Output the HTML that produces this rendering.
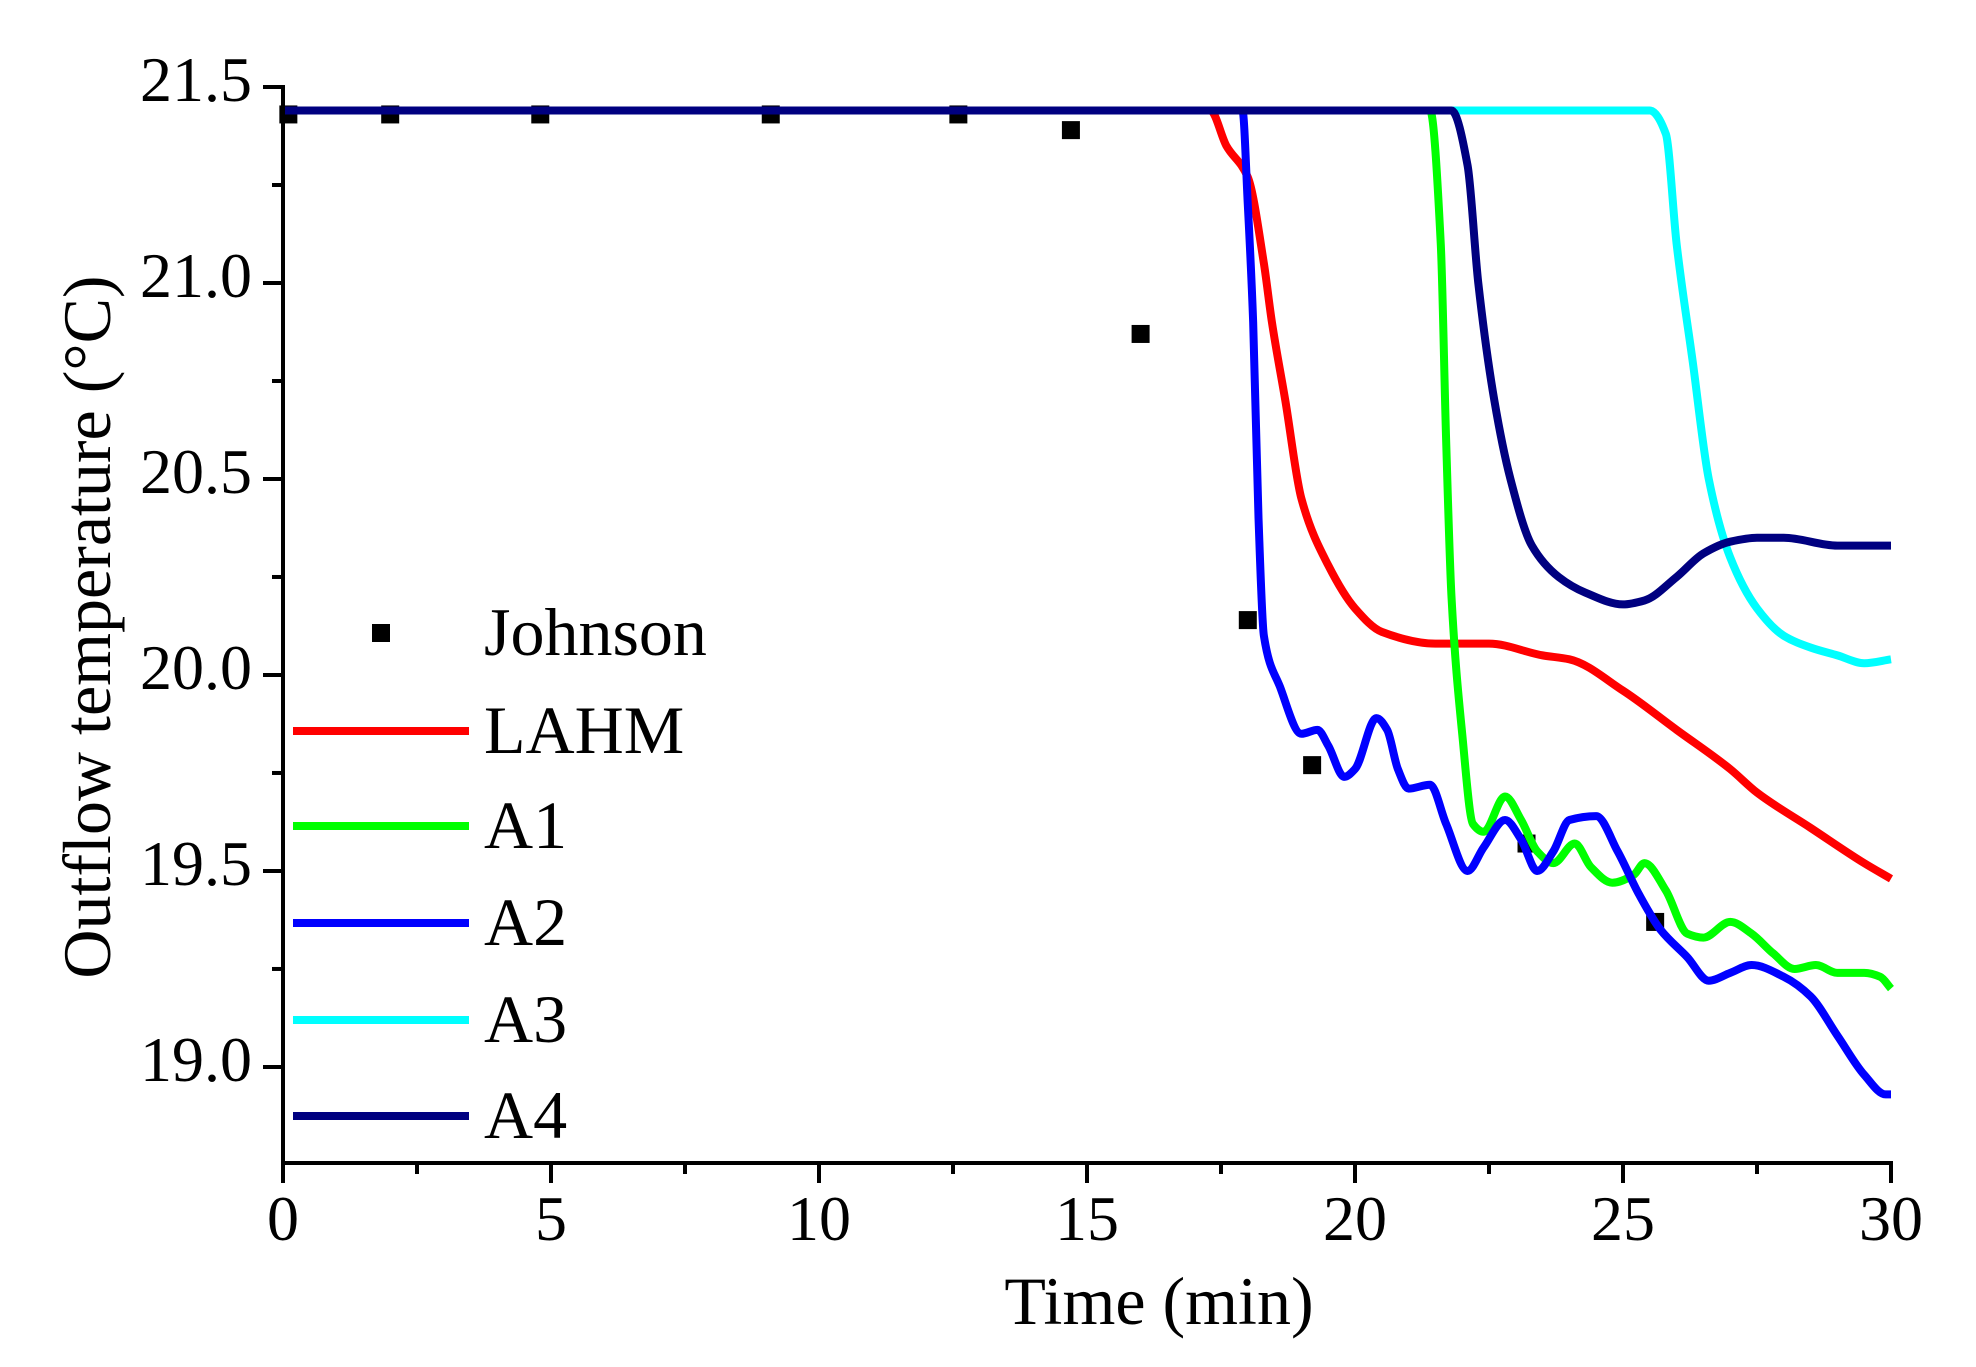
<!DOCTYPE html>
<html><head><meta charset="utf-8"><style>
html,body{margin:0;padding:0;background:#fff}
svg{display:block}
text{font-family:"Liberation Serif",serif;fill:#000}
</style></head><body>
<svg id="chart" width="1976" height="1367" viewBox="0 0 1976 1367" xmlns="http://www.w3.org/2000/svg">
<rect x="0" y="0" width="1976" height="1367" fill="#fff"/>
<g id="plot"></g>
</svg>
<script>
const xTicks=[0,5,10,15,20,25,30];
const yTicks=[19.0,19.5,20.0,20.5,21.0,21.5];
const yTickLabels=["19.0","19.5","20.0","20.5","21.0","21.5"];
const johnsonT=[0.1,2.0,4.8,9.1,12.6,14.7,16.0,18.0,19.2,23.2,25.6];
const johnsonV=[21.43,21.43,21.43,21.43,21.43,21.39,20.87,20.14,19.77,19.57,19.37];
const lahmT=[0,17.3,17.6,18.0,18.3,18.45,18.7,19.0,19.5,20.0,20.5,21.5,22.5,23.5,24.0,25.0,26.0,27.0,27.5,28.5,29.5,30];
const lahmV=[21.44,21.44,21.35,21.27,21.05,20.9,20.7,20.45,20.28,20.17,20.11,20.08,20.08,20.05,20.04,19.96,19.86,19.76,19.70,19.61,19.52,19.48];
const a1T=[0,21.4,21.6,21.7,21.8,22.0,22.2,22.4,22.8,23.1,23.4,23.7,24.1,24.4,24.8,25.2,25.4,25.8,26.2,26.5,27.0,27.4,27.8,28.2,28.6,29.0,29.5,29.8,30];
const a1V=[21.44,21.44,21.1,20.6,20.2,19.85,19.62,19.6,19.69,19.63,19.55,19.52,19.57,19.51,19.47,19.49,19.52,19.45,19.34,19.33,19.37,19.34,19.29,19.25,19.26,19.24,19.24,19.23,19.20];
const a2T=[0,17.9,18.0,18.1,18.2,18.3,18.6,19.0,19.3,19.5,19.8,20.0,20.4,20.6,20.8,21.0,21.4,21.7,22.1,22.4,22.8,23.1,23.4,23.7,24.0,24.5,24.9,25.3,25.7,26.2,26.6,27.0,27.4,28.0,28.5,29.0,29.5,29.9,30];
const a2V=[21.44,21.44,21.2,20.9,20.4,20.1,19.97,19.85,19.86,19.82,19.74,19.76,19.89,19.86,19.76,19.71,19.72,19.62,19.50,19.56,19.63,19.58,19.50,19.55,19.63,19.64,19.55,19.44,19.35,19.28,19.22,19.24,19.26,19.23,19.18,19.08,18.98,18.93,18.93];
const a3T=[0,25.5,25.8,26.0,26.3,26.6,27.0,27.5,28.0,28.5,29.0,29.5,30];
const a3V=[21.44,21.44,21.38,21.1,20.8,20.5,20.3,20.17,20.1,20.07,20.05,20.03,20.04];
const a4T=[0,21.8,22.1,22.3,22.6,22.9,23.3,23.8,24.3,25.0,25.4,26.0,26.5,27.0,27.5,28.0,29.0,30];
const a4V=[21.44,21.44,21.3,21.0,20.7,20.5,20.33,20.25,20.21,20.18,20.19,20.25,20.31,20.34,20.35,20.35,20.33,20.33];
const seriesNames=["LAHM","A1","A2","A3","A4"];
const seriesColors=["#ff0000","#00ff00","#0000ff","#00ffff","#000080"];

const NS="http://www.w3.org/2000/svg";
const X0=283,X1=1891,Y0=1163,Y1=87,XMIN=0,XMAX=30,YMIN=18.755,YMAX=21.5;
function sx(t){return X0+(t-XMIN)/(XMAX-XMIN)*(X1-X0);}
function sy(v){return Y0-(v-YMIN)/(YMAX-YMIN)*(Y0-Y1);}
const g=document.getElementById('plot');
function mk(tag,attrs,parent){const e=document.createElementNS(NS,tag);for(const k in attrs)e.setAttribute(k,attrs[k]);(parent||g).appendChild(e);return e;}

const jg=mk('g',{});


johnsonT.forEach((t,i)=>{const r=mk('rect',{x:sx(t)-9,y:sy(johnsonV[i])-9,width:18,height:18,fill:'#000'},jg);

});

function smoothPath(T,V){
  const x=T.map(sx),y=V.map(sy),n=x.length;
  const d=[],m=new Array(n);
  for(let i=0;i<n-1;i++)d.push((y[i+1]-y[i])/(x[i+1]-x[i]));
  m[0]=d[0];m[n-1]=d[n-2];
  for(let i=1;i<n-1;i++){
    if(d[i-1]*d[i]<=0)m[i]=0;
    else{const h0=x[i]-x[i-1],h1=x[i+1]-x[i];const w1=2*h1+h0,w2=h1+2*h0;m[i]=(w1+w2)/(w1/d[i-1]+w2/d[i]);}
  }
  let p='M'+x[0]+','+y[0];
  for(let i=0;i<n-1;i++){
    const h=(x[i+1]-x[i])/3;
    p+=' C'+(x[i]+h)+','+(y[i]+m[i]*h)+' '+(x[i+1]-h)+','+(y[i+1]-m[i+1]*h)+' '+x[i+1]+','+y[i+1];
  }
  return p;
}
const allT=[lahmT,a1T,a2T,a3T,a4T],allV=[lahmV,a1V,a2V,a3V,a4V];
allT.forEach((T,i)=>{const p=mk('path',{d:smoothPath(T,allV[i]),fill:'none',stroke:seriesColors[i],'stroke-width':8,'stroke-linejoin':'round'});

});

const ax=mk('g',{stroke:'#000','stroke-width':4,fill:'none'});


mk('line',{x1:X0,y1:Y1-2,x2:X0,y2:Y0+2},ax);
mk('line',{x1:X0-2,y1:Y0,x2:X1+2,y2:Y0},ax);
for(let t=0;t<=30;t+=2.5){const major=(t%5===0);mk('line',{x1:sx(t),y1:Y0,x2:sx(t),y2:Y0+(major?20:11)},ax);}
for(let v=19.0;v<=21.51;v+=0.25){const major=Math.abs(v*2-Math.round(v*2))<1e-6;mk('line',{x1:X0,y1:sy(v),x2:X0-(major?20:11),y2:sy(v)},ax);}
xTicks.forEach(t=>{const e=mk('text',{x:sx(t),y:1240,'font-size':64,'text-anchor':'middle'});e.textContent=t;

});
yTicks.forEach((v,i)=>{const e=mk('text',{x:252,y:sy(v)+14,'font-size':64,'text-anchor':'end'});e.textContent=yTickLabels[i];

});
const xt=mk('text',{x:1159,y:1324,'font-size':68,'text-anchor':'middle'});xt.textContent='Time (min)';


const yt=mk('text',{x:0,y:0,'font-size':68,'text-anchor':'middle',transform:'translate(110,627) rotate(-90)'});yt.textContent='Outflow temperature (°C)';



const lg=mk('g',{});


const legY=[633,731,826,923,1020,1116];
const jm=mk('rect',{x:372,y:legY[0]-9,width:18,height:18,fill:'#000'},lg);


const jt=mk('text',{x:484,y:legY[0]+22,'font-size':68},lg);jt.textContent='Johnson';


seriesNames.forEach((n,i)=>{const y=legY[i+1];
const l=mk('line',{x1:293,y1:y,x2:469,y2:y,stroke:seriesColors[i],'stroke-width':8},lg);


const t=mk('text',{x:484,y:y+22,'font-size':68},lg);t.textContent=n;

});
</script>
</body></html>
